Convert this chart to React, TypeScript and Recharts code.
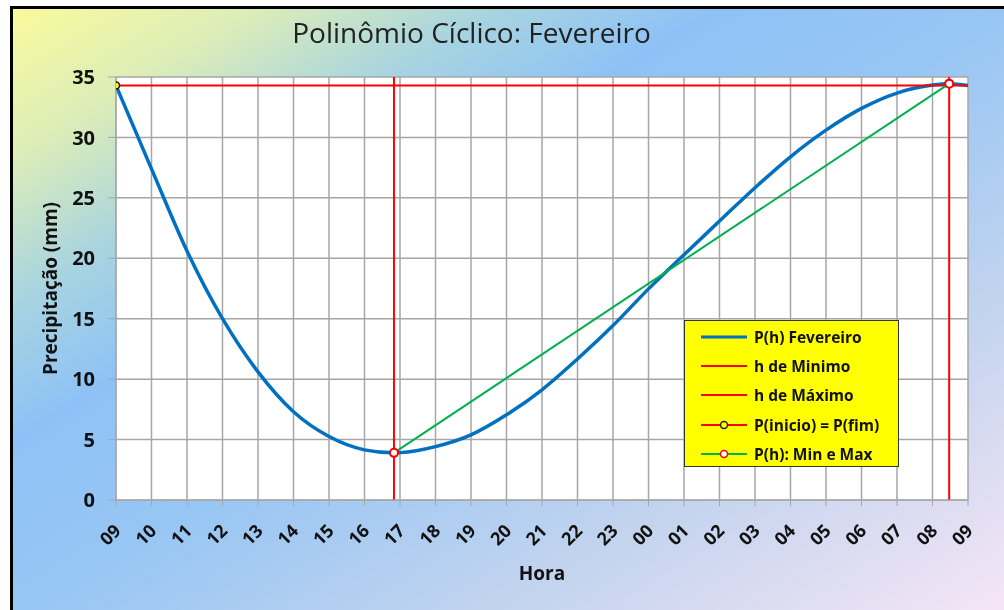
import { CartesianGrid, ComposedChart, Line, XAxis, YAxis } from "recharts";

// hours counted from 09:00 (0) to 09:00 next day (24)
const hourLabels = [
  "09", "10", "11", "12", "13", "14", "15", "16", "17", "18", "19", "20",
  "21", "22", "23", "00", "01", "02", "03", "04", "05", "06", "07", "08", "09",
];
const xTicks = hourLabels.map((_, i) => i);
const yTicks = [0, 5, 10, 15, 20, 25, 30, 35];

// P(h) every hour, plus the min and the max
const curveHours = [
  0, 1, 2, 3, 4, 5, 6, 7, 7.83, 8, 9, 10, 11, 12, 13, 14, 15, 16, 17, 18, 19,
  20, 21, 22, 23, 23.47, 24,
];
const curveValues = [
  34.3, 27.4, 20.6, 15.0, 10.6, 7.3, 5.25, 4.15, 3.9, 3.92, 4.42, 5.39, 7.05,
  9.12, 11.67, 14.43, 17.47, 20.3, 23.08, 25.84, 28.4, 30.6, 32.4, 33.67,
  34.33, 34.45, 34.3,
];

const minPoint = [7.83, 3.9];
const maxPoint = [23.47, 34.45];
const edgeValue = 34.3;
const yTop = 35;

const legendItems = [
  { label: "P(h) Fevereiro", color: "#0070c0", width: 3, dot: null },
  { label: "h de Minimo", color: "#ff0000", width: 2, dot: null },
  { label: "h de Máximo", color: "#ff0000", width: 2, dot: null },
  { label: "P(inicio) = P(fim)", color: "#ff0000", width: 2, dot: { fill: "#ffff00", stroke: "#222" } },
  { label: "P(h): Min e Max", color: "#00b050", width: 2, dot: { fill: "#fff", stroke: "#ff0000" } },
];

const curve = curveHours.map((h, i) => ({ h, p: curveValues[i] }));
const minLine = [{ h: minPoint[0], p: 0 }, { h: minPoint[0], p: yTop }];
const maxLine = [{ h: maxPoint[0], p: 0 }, { h: maxPoint[0], p: yTop }];
const edgeLine = [{ h: 0, p: edgeValue }, { h: 24, p: edgeValue }];
const minMaxLine = [
  { h: minPoint[0], p: minPoint[1] },
  { h: maxPoint[0], p: maxPoint[1] },
];

const FONT = "'Open Sans', 'Noto Sans', sans-serif";

function XTick({ x, y, payload }: any) {
  const px = x + 1;
  const py = y + 19;
  return (
    <text
      x={px}
      y={py}
      transform={`rotate(-45 ${px} ${py})`}
      textAnchor="end"
      dominantBaseline="central"
      fontSize={18}
      fontWeight={700}
      fill="#111"
    >
      {hourLabels[payload.value]}
    </text>
  );
}

function StartDot(props: any) {
  if (props.index !== 0) return <g key={`e${props.index}`} />;
  return (
    <circle key="start" cx={props.cx} cy={props.cy} r={3.5} fill="#ffff00" stroke="#111" strokeWidth={1.5} />
  );
}

export default function App() {
  return (
    <div style={{ position: "fixed", left: 0, top: 0, width: 1004, height: 610, overflow: "hidden", fontFamily: FONT }}>
      <div
        style={{
          position: "absolute",
          left: 10,
          top: 6,
          width: 1010,
          height: 620,
          boxSizing: "border-box",
          border: "3px solid #000",
          background:
            "linear-gradient(to bottom right, #fafa9c 0%, #dcedb8 12%, #a8d4e0 24%, #8ec2f6 35%, #98c6f4 50%, #c4d4ee 74%, #f8e6f6 100%)",
        }}
      />
      <div
        style={{
          position: "absolute",
          left: 0,
          top: 13,
          width: 943,
          textAlign: "center",
          fontSize: 28,
          color: "#222",
          lineHeight: "38px",
        }}
      >
        Polinômio Cíclico: Fevereiro
      </div>
      <div style={{ position: "absolute", left: 0, top: 0 }}>
        <ComposedChart width={1004} height={610} margin={{ top: 77, right: 36, bottom: 0, left: 0 }}>
          <CartesianGrid stroke="#a6a6a6" strokeWidth={1.5} fill="#ffffff" />
          <XAxis
            dataKey="h"
            type="number"
            domain={[0, 24]}
            ticks={xTicks}
            interval={0}
            allowDataOverflow
            stroke="#a6a6a6"
            tickSize={6}
            tick={<XTick />}
            height={110}
            label={{
              content: ({ viewBox }: any) => (
                <text
                  x={viewBox.x + viewBox.width / 2}
                  y={viewBox.y + 73}
                  textAnchor="middle"
                  dominantBaseline="central"
                  fontSize={19}
                  fontWeight={700}
                  fill="#111"
                >
                  Hora
                </text>
              ),
            }}
          />
          <YAxis
            dataKey="p"
            type="number"
            domain={[0, 35]}
            ticks={yTicks}
            interval={0}
            width={116}
            stroke="#a6a6a6"
            tickSize={8}
            tickMargin={13}
            tick={{ fill: "#111", fontSize: 20, fontWeight: 700 }}
            label={{
              content: ({ viewBox }: any) => {
                const cx = 50;
                const cy = viewBox.y + viewBox.height / 2;
                return (
                  <text
                    x={cx}
                    y={cy}
                    transform={`rotate(-90 ${cx} ${cy})`}
                    textAnchor="middle"
                    dominantBaseline="central"
                    fontSize={19}
                    fontWeight={700}
                    fill="#111"
                  >
                    Precipitação (mm)
                  </text>
                );
              },
            }}
          />
          <Line data={curve} dataKey="p" type="monotone" stroke="#0070c0" strokeWidth={3.5} dot={false} isAnimationActive={false} />
          <Line data={minLine} dataKey="p" stroke="#ff0000" strokeWidth={2} dot={false} isAnimationActive={false} />
          <Line data={maxLine} dataKey="p" stroke="#ff0000" strokeWidth={2} dot={false} isAnimationActive={false} />
          <Line data={edgeLine} dataKey="p" stroke="#ff0000" strokeWidth={2} dot={StartDot} isAnimationActive={false} />
          <Line
            data={minMaxLine}
            dataKey="p"
            stroke="#00b050"
            strokeWidth={2}
            dot={{ r: 4, fill: "#ffffff", stroke: "#ff0000", strokeWidth: 2 }}
            isAnimationActive={false}
          />
        </ComposedChart>
      </div>
      <div
        style={{
          position: "absolute",
          left: 684,
          top: 320,
          width: 215,
          height: 147,
          boxSizing: "border-box",
          background: "#ffff00",
          border: "1px solid #333",
          paddingTop: 1,
        }}
      >
        {legendItems.map((it) => (
          <div key={it.label} style={{ display: "flex", alignItems: "center", height: 29.4 }}>
            <svg width={69} height={14} style={{ flex: "none" }}>
              <line x1={16} y1={7} x2={62} y2={7} stroke={it.color} strokeWidth={it.width} />
              {it.dot && <circle cx={39} cy={7} r={3.5} fill={it.dot.fill} stroke={it.dot.stroke} strokeWidth={1.5} />}
            </svg>
            <span style={{ fontSize: 15.5, fontWeight: 700, color: "#111", whiteSpace: "nowrap" }}>{it.label}</span>
          </div>
        ))}
      </div>
    </div>
  );
}
